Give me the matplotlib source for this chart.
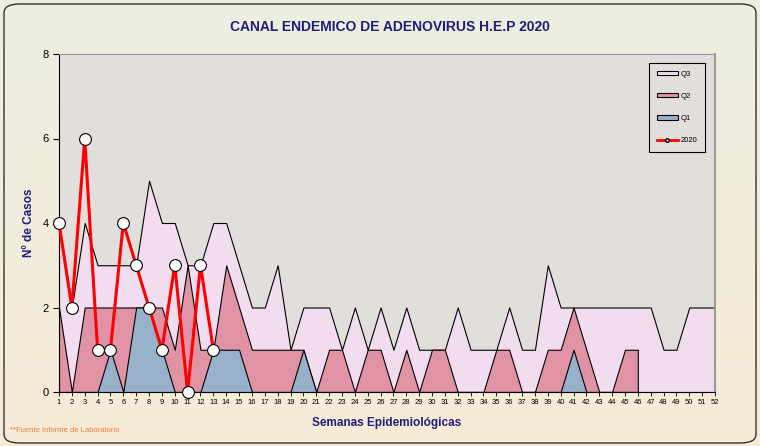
import numpy as np
import matplotlib
matplotlib.use('Agg')
import matplotlib.pyplot as plt
from matplotlib.patches import Patch, FancyBboxPatch
from matplotlib.lines import Line2D

# Datos del canal endémico
semanas = list(range(1, 53))
q3 = [4, 2, 4, 3, 3, 3, 3, 5, 4, 4, 3, 3, 4, 4, 3, 2, 2, 3, 1, 2,
      2, 2, 1, 2, 1, 2, 1, 2, 1, 1, 1, 2, 1, 1, 1, 2, 1, 1, 3, 2,
      2, 2, 2, 2, 2, 2, 2, 1, 1, 2, 2, 2]
q2 = [2, 0, 2, 2, 2, 2, 2, 2, 2, 1, 3, 1, 1, 3, 2, 1, 1, 1, 1, 1,
      0, 1, 1, 0, 1, 1, 0, 1, 0, 1, 1, 0, 0, 0, 1, 1, 0, 0, 1, 1,
      2, 1, 0, 0, 1, 1]
q1 = [0, 0, 0, 0, 1, 0, 2, 2, 1, 0, 0, 0, 1, 1, 1, 0, 0, 0, 0, 1,
      0, 0, 0, 0, 0, 0, 0, 0, 0, 0, 0, 0, 0, 0, 0, 0, 0, 0, 0, 0,
      1, 0, 0, 0, 0, 0]
casos_2020 = [4, 2, 6, 1, 1, 4, 3, 2, 1, 3, 0, 3, 1]

plt.rcParams['font.family'] = ['Liberation Sans Narrow', 'Liberation Sans', 'DejaVu Sans']
azul = '#1F1F7A'

fig = plt.figure(figsize=(7.6, 4.46), dpi=100)

# fondo degradado
bg = fig.add_axes([0, 0, 1, 1], zorder=-10)
grad = np.linspace(0, 1, 256).reshape(-1, 1)
top = np.array([0.925, 0.937, 0.878])
bot = np.array([0.973, 0.918, 0.847])
img = top + (bot - top) * grad[:, :, None]
bg.imshow(img, aspect='auto', extent=[0, 1, 0, 1])
bg.set_xlim(0, 1)
bg.set_ylim(0, 1)
bg.axis('off')
marco = FancyBboxPatch((4 / 760, 3 / 446), 752 / 760, 439 / 446,
                       boxstyle='round,pad=0,rounding_size=0.02',
                       transform=fig.transFigure, facecolor='none',
                       edgecolor='#333333', linewidth=1.0)
fig.patches.append(marco)

ax = fig.add_axes([59 / 760, 1 - 392 / 446, 656 / 760, 338 / 446])
ax.set_facecolor('#E2DEDC')

ax.fill_between(semanas, 0, q3, facecolor='#F2DDF0', edgecolor='black', linewidth=0.8)
ax.fill_between(semanas[:len(q2)], 0, q2, facecolor='#E093A5', edgecolor='black', linewidth=0.8)
ax.fill_between(semanas[:len(q1)], 0, q1, facecolor='#96B1C8', edgecolor='black', linewidth=0.8)
ax.plot(semanas[:len(casos_2020)], casos_2020, color='red', linewidth=2.2,
        marker='o', markersize=8.5, markerfacecolor='white', markeredgecolor='black',
        markeredgewidth=0.8, clip_on=False, zorder=5)

ax.set_xlim(1, 52)
ax.set_ylim(0, 8)
ax.set_xticks(semanas)
ax.set_xticklabels([str(s) for s in semanas], fontsize=5.5)
ax.set_yticks([0, 2, 4, 6, 8])
ax.tick_params(axis='y', labelsize=8, length=4, width=0.8)
ax.tick_params(axis='x', length=3, width=0.6, pad=2)
ax.spines['top'].set_color('#9A9A9A')
ax.spines['right'].set_color('#9A9A9A')
ax.spines['right'].set_linewidth(1.5)

ax.set_ylabel('Nº de Casos', fontsize=8.5, fontweight='bold', color=azul, labelpad=5)
ax.set_xlabel('Semanas Epidemiológicas', fontsize=8.5, fontweight='bold', color=azul, labelpad=8)

fig.text(0.513, 1 - 27 / 446, 'CANAL ENDEMICO DE ADENOVIRUS H.E.P 2020', ha='center', va='center',
         fontsize=10, fontweight='bold', color=azul)
fig.text(10 / 760, 1 - 430 / 446, '**Fuente Informe de Laboratorio', ha='left', va='center',
         fontsize=5.5, color='#F07E2B')

handles = [Patch(facecolor='#F2DDF0', edgecolor='black', linewidth=0.8, label='Q3'),
           Patch(facecolor='#E093A5', edgecolor='black', linewidth=0.8, label='Q2'),
           Patch(facecolor='#96B1C8', edgecolor='black', linewidth=0.8, label='Q1'),
           Line2D([0], [0], color='red', linewidth=2, marker='o', markersize=2.5,
                  markerfacecolor='white', markeredgecolor='black', label='2020')]
leg = ax.legend(handles=handles, loc='upper right', bbox_to_anchor=(0.99, 0.985),
                fontsize=5.5, frameon=True, fancybox=False, edgecolor='black',
                facecolor='#E2DEDC', framealpha=1, handlelength=2.8, handleheight=0.55,
                labelspacing=2.0, borderpad=1.0, handletextpad=0.3)
leg.get_frame().set_linewidth(0.8)

fig.savefig('out.png', dpi=100)
